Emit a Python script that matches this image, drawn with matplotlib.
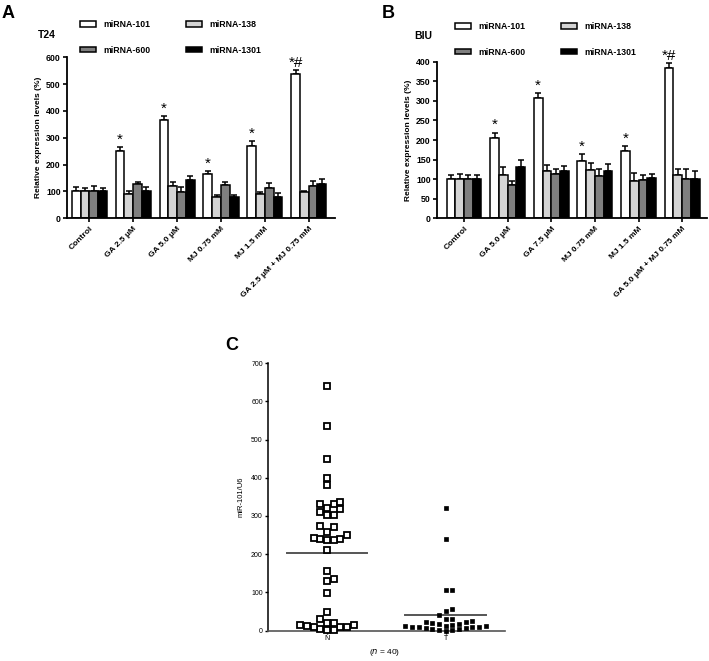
import numpy as np
import matplotlib
matplotlib.use("Agg")
import matplotlib.pyplot as plt
from matplotlib.patches import Patch

plt.rcParams['font.family'] = ['Liberation Sans', 'DejaVu Sans']

# ---------------- data ----------------
series = ["miRNA-101", "miRNA-138", "miRNA-600", "miRNA-1301"]
colors = ["white", "#d4d4d4", "#7f7f7f", "black"]

cats_a = ["Control", "GA 2.5 μM", "GA 5.0 μM", "MJ 0.75 mM", "MJ 1.5 mM", "GA 2.5 μM + MJ 0.75 mM"]
a_101 = [100, 252, 365, 165, 271, 537]
a_138 = [100, 90, 119, 81, 90, 97]
a_600 = [100, 127, 99, 125, 112, 121]
a_1301 = [100, 100, 141, 81, 81, 127]
a_101_err = [15, 13, 16, 12, 18, 14]
a_138_err = [14, 10, 16, 6, 8, 5]
a_600_err = [19, 10, 18, 12, 19, 19]
a_1301_err = [13, 16, 16, 5, 12, 20]
a_marks = ["", "*", "*", "*", "*", "*#"]

cats_b = ["Control", "GA 5.0 μM", "GA 7.5 μM", "MJ 0.75 mM", "MJ 1.5 mM", "GA 5.0 μM + MJ 0.75 mM"]
b_101 = [100, 205, 308, 147, 173, 383]
b_138 = [100, 111, 120, 124, 96, 111]
b_600 = [100, 85, 113, 107, 97, 101]
b_1301 = [100, 132, 121, 121, 103, 100]
b_101_err = [11, 14, 12, 16, 11, 13]
b_138_err = [13, 21, 16, 18, 19, 16]
b_600_err = [10, 10, 12, 20, 14, 24]
b_1301_err = [10, 17, 12, 17, 10, 22]
b_marks = ["", "*", "*", "*", "*", "*#"]

c_groups = ["N", "T"]
c_N = [640, 537, 450, 400, 380,
       318, 331, 320, 331, 336, 302, 302, 310,
       274, 257, 270, 250, 240, 236, 236, 240, 242,
       212, 155, 129, 135, 98, 49,
       15, 10, 8, 20, 19, 30, 1, 2, 4, 8, 11, 14]
c_T = [321, 241, 107, 105, 57, 51, 40,
       31, 25, 22, 20, 18, 22, 30,
       16, 12, 10, 9, 8, 7, 6, 9, 11, 13, 15,
       3, 2, 0, 1, 4]

# ---------------- figure ----------------
W, H = 709, 661
fig = plt.figure(figsize=(W / 100, H / 100), dpi=100)


def fx(px):
    return px / W


def fy(py):
    return 1 - py / H


def bar_panel(rect, cats, vals, errs, marks, ymax, ystep, xlim):
    ax = fig.add_axes(rect)
    n = len(cats)
    x = np.arange(n)
    bw = 0.2
    for i, (v, e, c) in enumerate(zip(vals, errs, colors)):
        pos = x + (i - 1.5) * bw
        ax.bar(pos, v, width=bw, color=c, edgecolor="black", linewidth=1.1, zorder=2)
        ax.errorbar(pos, v, yerr=[np.zeros(n), e], fmt="none", ecolor="black",
                    elinewidth=1.1, capsize=2.2, capthick=1.1, zorder=1)
    pos101 = x - 1.5 * bw
    for p, v, e, m in zip(pos101, vals[0], errs[0], marks):
        if m:
            ax.annotate(m, (p, v + e), xytext=(0, 0.3), textcoords="offset points",
                        ha="center", va="bottom", fontsize=11)
    ax.set_xlim(*xlim)
    ax.set_ylim(0, ymax)
    ax.set_yticks(np.arange(0, ymax + 1, ystep))
    ax.set_xticks(x)
    ax.set_xticklabels(cats, rotation=45, ha="right", rotation_mode="anchor",
                       fontsize=6, fontweight="bold")
    for lab in ax.get_yticklabels():
        lab.set_fontsize(6.3)
        lab.set_fontweight("bold")
    ax.tick_params(axis="both", length=3, width=1.2, pad=1.5)
    ax.tick_params(axis="x", pad=2)
    for s in ["top", "right"]:
        ax.spines[s].set_visible(False)
    for s in ["left", "bottom"]:
        ax.spines[s].set_linewidth(1.3)
    ax.set_ylabel("Relative expression levels (%)", fontsize=6, fontweight="bold", labelpad=3)
    return ax


axA = bar_panel([fx(67), fy(218.3), fx(268), 161 / H], cats_a,
                [a_101, a_138, a_600, a_1301], [a_101_err, a_138_err, a_600_err, a_1301_err],
                a_marks, 600, 100, (-0.51, 5.6))
axB = bar_panel([fx(437), fy(218.3), fx(270), 156.6 / H], cats_b,
                [b_101, b_138, b_600, b_1301], [b_101_err, b_138_err, b_600_err, b_1301_err],
                b_marks, 400, 50, (-0.62, 5.57))

handles = [Patch(facecolor=c, edgecolor="black", linewidth=1.1, label=s)
           for s, c in zip(series, colors)]
order = [0, 2, 1, 3]
for (lx, ly, cs) in [(80, 20, 4.0), (455, 22, 4.0)]:
    fig.legend([handles[i] for i in order], [series[i] for i in order],
               loc="upper left", bbox_to_anchor=(fx(lx), fy(ly)), ncol=2,
               frameon=False, prop={"weight": "bold", "size": 6.3},
               handlelength=1.8, handleheight=0.6, handletextpad=0.9,
               columnspacing=cs, labelspacing=1.9, borderpad=0, borderaxespad=0)

fig.text(fx(38), fy(35), "T24", fontsize=7.5, fontweight="bold", ha="left", va="center")
fig.text(fx(414), fy(36), "BIU", fontsize=7.5, fontweight="bold", ha="left", va="center")
fig.text(fx(2), fy(14), "A", fontsize=13, fontweight="bold", ha="left", va="center")
fig.text(fx(382), fy(13), "B", fontsize=13, fontweight="bold", ha="left", va="center")
fig.text(fx(225), fy(345), "C", fontsize=13, fontweight="bold", ha="left", va="center")

# ---------------- panel C ----------------
axC = fig.add_axes([fx(267.7), fy(630.5), fx(237.3), 267.2 / H])
axC.set_xlim(-0.5, 1.5)
axC.set_ylim(0, 700)
px_x = 237.3 / 2.0
px_y = 267.2 / 700.0


def swarm(values, center, step_px=6.7, size_px=6.7):
    vals = np.asarray(values, dtype=float)
    xs = np.zeros(len(vals))
    placed = []
    cands = [0] + [s * j for j in range(1, 30) for s in (1, -1)]
    for i in np.argsort(vals):
        py = vals[i] * px_y
        for c in cands:
            xo = c * step_px
            if all(not (abs(xo - qx) < step_px * 0.99 and abs(py - qy) < size_px)
                   for qx, qy in placed):
                break
        placed.append((xo, py))
        xs[i] = center + xo / px_x
    return xs


xN = swarm(c_N, 0, 6.7, 6.5)
xT = swarm(c_T, 1, 6.7, 4.6)
axC.plot(xN, c_N, ls="none", marker="s", markersize=4.0, markerfacecolor="white",
         markeredgecolor="black", markeredgewidth=1.3, zorder=3, clip_on=False)
axC.plot(xT, c_T, ls="none", marker="s", markersize=3.3, markerfacecolor="black",
         markeredgecolor="black", markeredgewidth=0.5, zorder=3, clip_on=False)
for i, vals in enumerate([c_N, c_T]):
    m = np.mean(vals)
    axC.plot([i - 0.34, i + 0.34], [m, m], color="#555555", lw=1.4, zorder=2)

axC.set_yticks(np.arange(0, 701, 100))
axC.set_xticks([0, 1])
axC.set_xticklabels(c_groups)
axC.tick_params(axis="both", labelsize=5, length=2.5, width=1.0, pad=1)
for s in ["top", "right"]:
    axC.spines[s].set_visible(False)
axC.spines["left"].set_linewidth(1.1)
axC.spines["bottom"].set_linewidth(1.2)
axC.spines["bottom"].set_color("#555555")
axC.set_ylabel("miR-101/U6", fontsize=5.5, labelpad=5)
fig.text(fx(385), fy(653), r"($\it{n}$ = 40)", fontsize=6, ha="center", va="center")

fig.savefig("out.png", dpi=100)
